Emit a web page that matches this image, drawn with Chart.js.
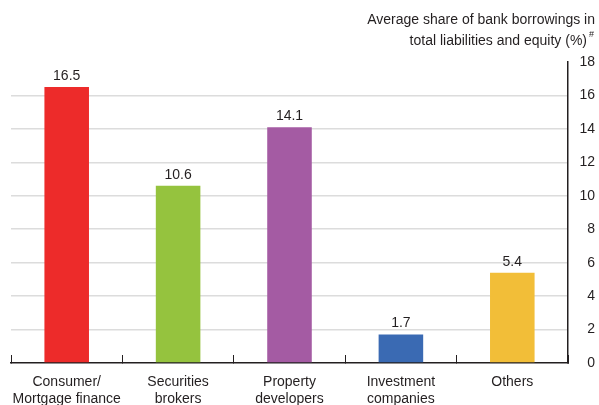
<!DOCTYPE html>
<html>
<head>
<meta charset="utf-8">
<style>
  html, body { margin: 0; padding: 0; background: #fff; }
  #wrap { width: 599px; height: 405px; }
</style>
<script src="https://cdn.jsdelivr.net/npm/chart.js"></script>
</head>
<body>
<div id="wrap"><canvas id="shareChart" width="599" height="405"></canvas></div>

<script type="text/javascript">
    // data
    const categories = [["Consumer/", "Mortgage finance"], ["Securities", "brokers"], ["Property", "developers"], ["Investment", "companies"], ["Others"]];
    const shareValues = [16.5, 10.6, 14.1, 1.7, 5.4];
    const barColors = ["#ED2B2A", "#95C33E", "#A45BA3", "#3A6AB3", "#F2BE38"];
    const yTicks = [0, 2, 4, 6, 8, 10, 12, 14, 16, 18];
    const titleLines = ["Average share of bank borrowings in", "total liabilities and equity (%)"];

    const fontFamily = "'Liberation Sans', Arial, Helvetica, sans-serif";
    const textColor = "#231F20";

    // value labels over the bars + the axis caption in the top right corner
    const annotate = {
        id: "annotate",
        afterDatasetsDraw(chart) {
            let ctx = chart.ctx;
            let meta = chart.getDatasetMeta(0);
            ctx.save();
            ctx.font = "14px " + fontFamily;
            ctx.fillStyle = textColor;
            ctx.textAlign = "center";
            ctx.textBaseline = "bottom";
            meta.data.forEach((bar, i) => {
                ctx.fillText(shareValues[i].toFixed(1), bar.x, bar.y - 4);
            });

            ctx.textAlign = "right";
            ctx.textBaseline = "middle";
            ctx.fillText(titleLines[0], 595, 20);
            ctx.fillText(titleLines[1], 587, 41);
            ctx.font = "9px " + fontFamily;
            ctx.fillText("#", 594, 35);
            ctx.restore();
        }
    };

    let ctx = document.getElementById("shareChart").getContext("2d");
    new Chart(ctx, {
        type: "bar",
        data: {
            labels: categories,
            datasets: [{
                data: shareValues,
                backgroundColor: barColors,
                barPercentage: 0.4,
                categoryPercentage: 1.0
            }]
        },
        options: {
            responsive: false,
            animation: false,
            layout: { padding: { top: 62, left: 11, right: 4, bottom: 0 } },
            plugins: {
                legend: { display: false },
                tooltip: { enabled: false }
            },
            scales: {
                x: {
                    grid: {
                        offset: true,
                        drawOnChartArea: false,
                        drawTicks: true,
                        tickLength: -8,
                        color: "#231F20",
                        lineWidth: 1
                    },
                    border: { display: true, color: "#231F20", width: 1.5 },
                    ticks: {
                        color: textColor,
                        font: { family: fontFamily, size: 14, lineHeight: 1.2 },
                        padding: 19,
                        maxRotation: 0,
                        autoSkip: false
                    },
                    afterFit(scale) {
                        scale.height = 42;
                        scale.paddingLeft = 0;
                        scale.paddingRight = 0;
                    }
                },
                y: {
                    position: "right",
                    min: 0,
                    max: 18,
                    afterBuildTicks(scale) {
                        scale.ticks = yTicks.map(v => ({ value: v }));
                    },
                    grid: {
                        drawTicks: false,
                        color: c => (c.tick.value === 0 || c.tick.value === 18) ? "rgba(0,0,0,0)" : "#DCDCDC",
                        lineWidth: 1.5
                    },
                    border: { display: true, color: "#231F20", width: 1.5 },
                    ticks: {
                        color: textColor,
                        font: { family: fontFamily, size: 14 },
                        crossAlign: "far"
                    },
                    afterFit(scale) { scale.width = 27; }
                }
            }
        },
        plugins: [annotate]
    });
</script>
</body>
</html>
